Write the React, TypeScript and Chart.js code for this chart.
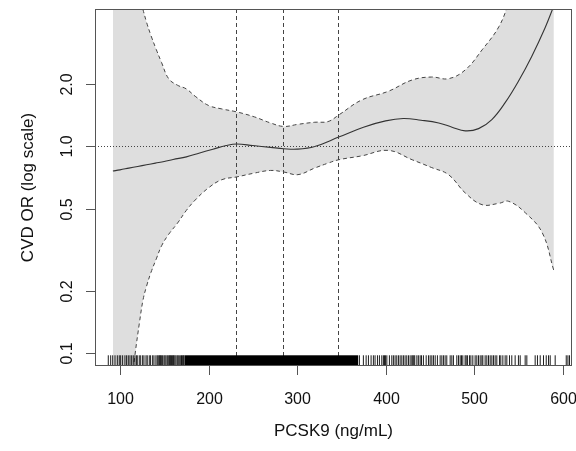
import React, { useEffect, useRef } from "react";
import { Chart, registerables } from "chart.js";

Chart.register(...registerables);

// ---- data ----
const fitX = [92, 100, 110, 120, 130, 140, 150, 160, 175, 190, 205, 220, 232, 250, 270, 285, 300, 320, 347, 375, 400, 420, 440, 460, 475, 490, 505, 520, 535, 550, 565, 580, 590];
const fitOR = [0.76, 0.77, 0.785, 0.8, 0.815, 0.83, 0.845, 0.865, 0.89, 0.93, 0.97, 1.01, 1.027, 1.01, 0.99, 0.975, 0.97, 1.0, 1.11, 1.24, 1.33, 1.365, 1.34, 1.3, 1.24, 1.19, 1.22, 1.35, 1.63, 2.07, 2.73, 3.75, 4.8];

const ciX = [92, 100, 110, 117, 122, 126, 130, 135, 141, 147, 155, 165, 175, 185, 200, 215, 232, 252, 270, 285, 301, 320, 335, 347, 373, 403, 430, 452, 471, 490, 509, 528, 539, 558, 577, 590];
const upperCI = [40, 20, 9, 6.2, 5.2, 4.6, 4.0, 3.45, 2.95, 2.55, 2.13, 1.98, 1.9, 1.75, 1.58, 1.52, 1.47, 1.39, 1.3, 1.25, 1.28, 1.31, 1.32, 1.42, 1.68, 1.85, 2.1, 2.17, 2.13, 2.35, 2.94, 3.81, 5.0, 9, 18, 30];
const lowerCI = [0.012, 0.025, 0.055, 0.098, 0.14, 0.18, 0.21, 0.245, 0.285, 0.33, 0.375, 0.425, 0.49, 0.55, 0.63, 0.69, 0.712, 0.743, 0.765, 0.752, 0.73, 0.786, 0.83, 0.862, 0.9, 0.957, 0.862, 0.79, 0.73, 0.595, 0.522, 0.53, 0.542, 0.476, 0.381, 0.25];

const quartiles = [231, 284.5, 346.7];
const refOR = 1;

const xTicks = [100, 200, 300, 400, 500, 600];
const yTicks = [0.1, 0.2, 0.5, 1, 2];
const yTickLabels = ["0.1", "0.2", "0.5", "1.0", "2.0"];

// rug: observations; the central block is so dense it prints solid
const rugDense = [173, 369];
const rugLeft = [86.8, 89.5, 91.8, 94.4, 97, 99.2, 100.8, 103, 105.6, 107.5, 109.4, 111.3, 113.2, 115, 116.9, 118.5, 119.5, 121.8, 123.4, 125.6, 127.1, 129.4, 130.8, 133.1, 134.6, 136.9, 138.4, 140.6, 142.1, 143.2, 144.4, 145.2, 146, 147.1, 148.2, 149.7, 150.8, 152, 153.4, 154.5, 155.7, 156.5, 157.3, 158.3, 159.5, 160.2, 161, 162.1, 163.3, 164.7, 165.8, 167, 168.6, 169.5, 170.8, 171.5, 172.3];
const rugRight = [370.4, 374.9, 378, 380.6, 383.6, 386.2, 388.1, 390.8, 393, 395.7, 397.5, 398.7, 399.8, 401.4, 404.3, 407, 408.8, 410.7, 412.6, 414.5, 416.4, 418.3, 420.1, 422, 423.9, 425.8, 427.7, 429.6, 430.7, 431.8, 432.9, 435.3, 437, 439, 440.5, 442.7, 445.8, 448.4, 450.3, 452.2, 454, 456, 458.5, 461.6, 463.5, 465.3, 467.2, 469.1, 472.9, 474.8, 476.6, 480.4, 482.3, 484.2, 485.7, 487.2, 489.8, 491, 492.4, 494.7, 496.3, 498.5, 501.1, 503, 504.9, 506.8, 508.7, 509.8, 512.4, 514.3, 516.2, 518.1, 520, 521.8, 523.7, 525.6, 528.6, 530.1, 532.4, 535, 536.9, 539.9, 542.5, 546.3, 550, 552, 557.6, 559.5, 568.9, 571.5, 574.6, 578.3, 581.4, 584, 585.9, 591.5, 604, 605.9, 607.7];

const xTitle = "PCSK9 (ng/mL)";
const yTitle = "CVD OR (log scale)";

const FONT = "'Liberation Sans', Arial, Helvetica, sans-serif";

const rPlot = {
  id: "rplot",
  afterDatasetsDraw(chart: any) {
    const { ctx, chartArea: a, scales } = chart;
    const x = scales.x;
    const y = scales.y;
    const line = (x0: number, y0: number, x1: number, y1: number) => {
      ctx.beginPath();
      ctx.moveTo(x0, y0);
      ctx.lineTo(x1, y1);
      ctx.stroke();
    };
    ctx.save();
    // reference line at OR = 1
    ctx.strokeStyle = "#444";
    ctx.lineWidth = 1;
    ctx.setLineDash([1, 2]);
    const yr = Math.round(y.getPixelForValue(refOR)) + 0.5;
    line(a.left, yr, a.right, yr);
    // quartile lines
    ctx.setLineDash([4, 3]);
    for (const q of quartiles) {
      const px = Math.round(x.getPixelForValue(q)) + 0.5;
      line(px, a.top, px, a.bottom);
    }
    // rug
    ctx.setLineDash([]);
    const rugTop = a.bottom - 0.03 * (a.bottom - a.top);
    ctx.fillStyle = "#000";
    const d0 = x.getPixelForValue(rugDense[0]);
    const d1 = x.getPixelForValue(rugDense[1]);
    ctx.fillRect(d0, rugTop, d1 - d0, a.bottom - rugTop);
    ctx.strokeStyle = "#000";
    ctx.lineWidth = 0.9;
    for (const v of [...rugLeft, ...rugRight]) {
      const px = x.getPixelForValue(v);
      if (px < a.left || px > a.right) continue;
      line(px, rugTop, px, a.bottom);
    }
    // box
    ctx.strokeStyle = "#555";
    ctx.lineWidth = 1;
    ctx.strokeRect(a.left + 0.5, a.top + 0.5, a.right - a.left - 1, a.bottom - a.top - 1);
    // x axis
    ctx.fillStyle = "#111";
    ctx.font = `16px ${FONT}`;
    ctx.textAlign = "center";
    ctx.textBaseline = "alphabetic";
    for (const t of xTicks) {
      const px = Math.round(x.getPixelForValue(t)) + 0.5;
      line(px, a.bottom, px, a.bottom + 9);
      ctx.fillText(String(t), px, a.bottom + 38);
    }
    ctx.font = `17px ${FONT}`;
    ctx.fillText(xTitle, (a.left + a.right) / 2, a.bottom + 70);
    // y axis
    ctx.font = `16px ${FONT}`;
    yTicks.forEach((t, i) => {
      const py = Math.round(y.getPixelForValue(t)) + 0.5;
      line(a.left - 9, py, a.left, py);
      ctx.save();
      ctx.translate(a.left - 23, py);
      ctx.rotate(-Math.PI / 2);
      ctx.fillText(yTickLabels[i], 0, 0);
      ctx.restore();
    });
    ctx.font = `17px ${FONT}`;
    ctx.save();
    ctx.translate(a.left - 62, (a.top + a.bottom) / 2);
    ctx.rotate(-Math.PI / 2);
    ctx.fillText(yTitle, 0, 0);
    ctx.restore();
    ctx.restore();
  },
};

export default function App() {
  const ref = useRef<HTMLCanvasElement>(null);
  useEffect(() => {
    const chart = new Chart(ref.current as HTMLCanvasElement, {
      type: "line",
      data: {
        datasets: [
          {
            label: "upper",
            data: ciX.map((v, i) => ({ x: v, y: upperCI[i] })),
            borderColor: "#444",
            borderWidth: 1,
            borderDash: [4, 3],
            pointRadius: 0,
            fill: "+1",
            backgroundColor: "#DEDEDE",
            tension: 0.4,
          },
          {
            label: "lower",
            data: ciX.map((v, i) => ({ x: v, y: lowerCI[i] })),
            borderColor: "#444",
            borderWidth: 1,
            borderDash: [4, 3],
            pointRadius: 0,
            fill: false,
            tension: 0.4,
          },
          {
            label: "fit",
            data: fitX.map((v, i) => ({ x: v, y: fitOR[i] })),
            borderColor: "#333",
            borderWidth: 1.1,
            pointRadius: 0,
            fill: false,
            tension: 0.4,
          },
        ],
      },
      options: {
        responsive: false,
        animation: false,
        devicePixelRatio: 1,
        layout: { padding: { left: 95, right: 4, top: 9, bottom: 85 } },
        scales: {
          x: { type: "linear", min: 71.8, max: 610.5, display: false },
          y: { type: "logarithmic", min: 0.08629, max: 4.6354, display: false },
        },
        plugins: {
          legend: { display: false },
          tooltip: { enabled: false },
          filler: { drawTime: "beforeDatasetsDraw" },
        },
      } as any,
      plugins: [rPlot],
    });
    return () => chart.destroy();
  }, []);
  return (
    <div style={{ position: "fixed", left: 0, top: 0, width: 576, height: 451, background: "#fff" }}>
      <canvas ref={ref} width={576} height={451} style={{ width: 576, height: 451, display: "block" }} />
    </div>
  );
}
